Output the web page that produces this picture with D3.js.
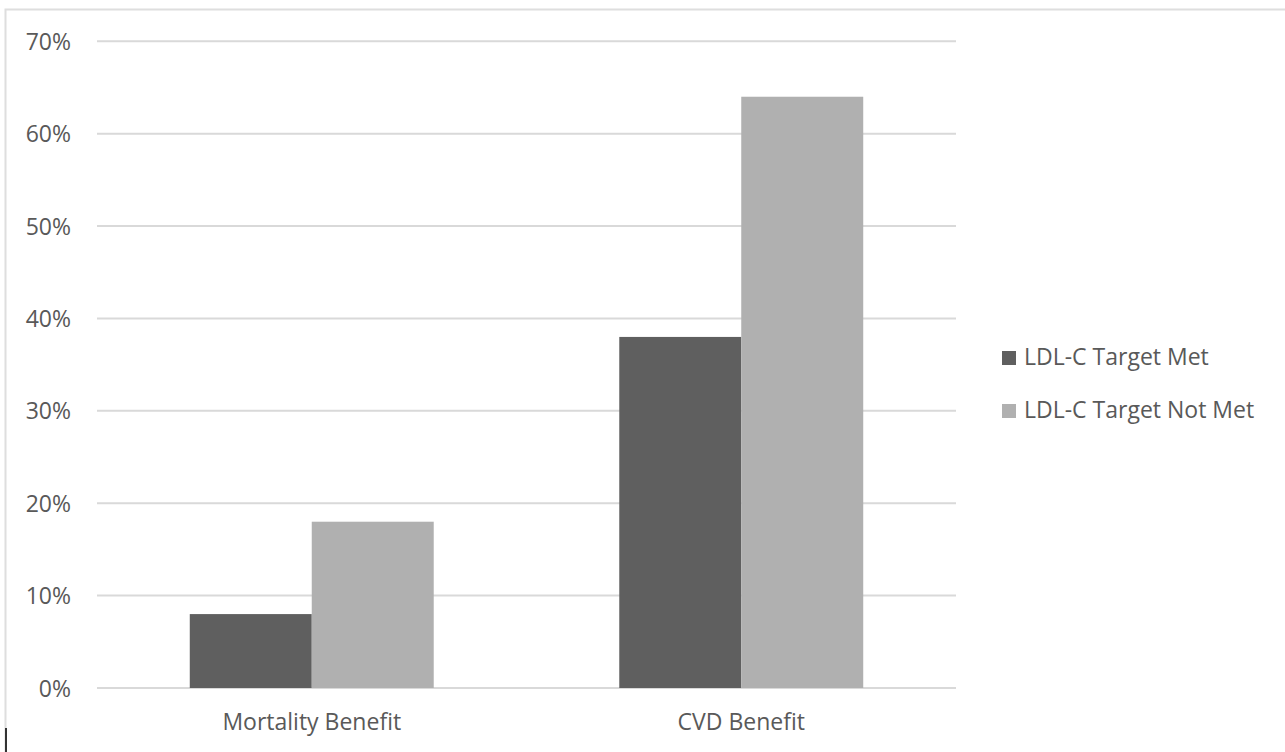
<!DOCTYPE html>
<html><head><meta charset="utf-8">
<script src="https://cdn.jsdelivr.net/npm/d3@7"></script>
<style>html,body{margin:0;padding:0;background:#fff;}svg{display:block;}</style>
</head><body>
<svg id="chart" width="1285" height="752"></svg>
<script>
const categories = ["Mortality Benefit", "CVD Benefit"];
const seriesNames = ["LDL-C Target Met", "LDL-C Target Not Met"];
const targetMet = [0.08, 0.38];
const targetNotMet = [0.18, 0.64];
const yTicks = [0, 0.1, 0.2, 0.3, 0.4, 0.5, 0.6, 0.7];
const colors = ["#5f5f5f", "#b0b0b0"];

const svg = d3.select("#chart");
const font = "'Open Sans', 'Noto Sans', sans-serif";
const textColor = "#595959";
const fs = 23;

// frame
svg.append("path").attr("d", "M5.5,752 V9.5 H1285").attr("fill", "none").attr("stroke", "#dedede").attr("stroke-width", 2);
svg.append("line").attr("x1", 6).attr("x2", 6).attr("y1", 728).attr("y2", 752).attr("stroke", "#333").attr("stroke-width", 2);

const x0 = d3.scaleBand().domain(categories).range([97, 956]).paddingInner(0.432).paddingOuter(0.216);
const x1 = d3.scaleBand().domain(seriesNames).range([0, x0.bandwidth()]).padding(0);
const y = d3.scaleLinear().domain([0, 0.7]).range([688, 41.3]);

// gridlines
svg.append("g").selectAll("line").data(yTicks).join("line")
  .attr("x1", 97).attr("x2", 956)
  .attr("y1", d => y(d)).attr("y2", d => y(d))
  .attr("stroke", "#d9d9d9").attr("stroke-width", 2);

// y labels
const yAxis = d3.axisLeft(y).tickValues(yTicks).tickFormat(d3.format(".0%")).tickSize(0).tickPadding(0);
const gy = svg.append("g").attr("transform", "translate(71,0)").call(yAxis);
gy.select(".domain").remove();
gy.selectAll("text").attr("font-family", font).attr("font-size", fs).attr("fill", textColor).attr("dy", "0.35em");

// bars
const data = categories.map((c, i) => ({cat: c, vals: [targetMet[i], targetNotMet[i]]}));
const groups = svg.append("g").selectAll("g").data(data).join("g")
  .attr("transform", d => `translate(${x0(d.cat)},0)`);
groups.selectAll("rect").data(d => d.vals.map((v, j) => ({v, s: seriesNames[j], j})))
  .join("rect")
  .attr("x", d => x1(d.s)).attr("width", x1.bandwidth())
  .attr("y", d => y(d.v)).attr("height", d => y(0) - y(d.v))
  .attr("fill", d => colors[d.j]);

// x labels
const xAxis = d3.axisBottom(x0).tickSize(0).tickPadding(0);
const gx = svg.append("g").attr("transform", "translate(0,722)").call(xAxis);
gx.select(".domain").remove();
gx.selectAll("text").attr("font-family", font).attr("font-size", fs).attr("fill", textColor).attr("dy", "0.35em");

// legend
const leg = svg.append("g").selectAll("g").data(seriesNames).join("g")
  .attr("transform", (d, i) => `translate(1002,${365 + i * 53})`);
leg.append("rect").attr("x", 0).attr("y", -14).attr("width", 14).attr("height", 14).attr("fill", (d, i) => colors[i]);
leg.append("text").attr("x", 22).attr("y", 0).text(d => d)
  .attr("font-family", font).attr("font-size", fs).attr("fill", textColor);
</script>
</body></html>
